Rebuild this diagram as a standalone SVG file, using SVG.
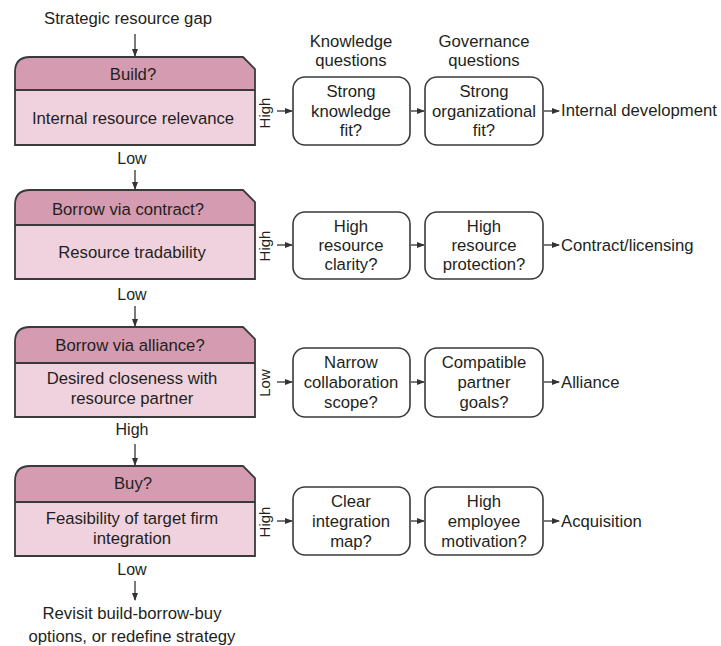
<svg xmlns="http://www.w3.org/2000/svg" width="721" height="646" viewBox="0 0 721 646">
<defs>
<marker id="ah" markerWidth="8" markerHeight="6" refX="7" refY="3" orient="auto" markerUnits="userSpaceOnUse">
<path d="M0,0 L8,3 L0,6 Z" fill="#333"/>
</marker>
<style>
text{font-family:"Liberation Sans",Arial,sans-serif;font-size:16.7px;fill:#231f20;text-anchor:middle}
.l{text-anchor:start}
.s{font-size:16px}
.v{font-size:15px}
.hd{fill:#d59bb1}
.bd{fill:#f0d2de}
.ol{fill:none;stroke:#3a3a3a;stroke-width:1.8}
.dv{stroke:#3a3a3a;stroke-width:1.8}
.bx{fill:#fff;stroke:#3a3a3a;stroke-width:1.6}
.c{stroke:#333;stroke-width:1.3;fill:none;marker-end:url(#ah)}
</style>
</defs>
<rect width="721" height="646" fill="#fff"/>

<text x="128" y="24">Strategic resource gap</text>
<text x="351" y="47">Knowledge</text>
<text x="351" y="66">questions</text>
<text x="484" y="47">Governance</text>
<text x="484" y="66">questions</text>

<g id="build">
<path class="hd" d="M15,90 L15,72 Q15,57 30,57 L243,57 L255,69 L255,90 Z"/>
<rect class="bd" x="15" y="90" width="240" height="55"/>
<line class="dv" x1="15" y1="90" x2="255" y2="90"/>
<path class="ol" d="M15,145 L15,72 Q15,57 30,57 L243,57 L255,69 L255,145 Z"/>
<text x="133" y="80">Build?</text>
<text x="133" y="124">Internal resource relevance</text>
</g>
<g id="contract">
<path class="hd" d="M15,225 L15,205 Q15,190 30,190 L243,190 L255,202 L255,225 Z"/>
<rect class="bd" x="15" y="225" width="240" height="54"/>
<line class="dv" x1="15" y1="225" x2="255" y2="225"/>
<path class="ol" d="M15,279 L15,205 Q15,190 30,190 L243,190 L255,202 L255,279 Z"/>
<text x="128" y="215">Borrow via contract?</text>
<text x="132" y="258">Resource tradability</text>
</g>
<g id="alliance">
<path class="hd" d="M15,363 L15,342 Q15,327 30,327 L243,327 L255,339 L255,363 Z"/>
<rect class="bd" x="15" y="363" width="240" height="54"/>
<line class="dv" x1="15" y1="363" x2="255" y2="363"/>
<path class="ol" d="M15,417 L15,342 Q15,327 30,327 L243,327 L255,339 L255,417 Z"/>
<text x="130" y="351">Borrow via alliance?</text>
<text x="132" y="384">Desired closeness with</text>
<text x="132" y="404">resource partner</text>
</g>
<g id="buy">
<path class="hd" d="M15,502 L15,481 Q15,466 30,466 L243,466 L255,478 L255,502 Z"/>
<rect class="bd" x="15" y="502" width="240" height="54"/>
<line class="dv" x1="15" y1="502" x2="255" y2="502"/>
<path class="ol" d="M15,556 L15,481 Q15,466 30,466 L243,466 L255,478 L255,556 Z"/>
<text x="133" y="489">Buy?</text>
<text x="132" y="524">Feasibility of target firm</text>
<text x="132" y="544">integration</text>
</g>

<g id="r1">
<rect class="bx" x="293" y="77" width="117" height="68" rx="12"/>
<text x="351" y="97">Strong</text><text x="351" y="117">knowledge</text><text x="351" y="136">fit?</text>
<rect class="bx" x="425" y="77" width="118" height="68" rx="12"/>
<text x="484" y="97">Strong</text><text x="484" y="117">organizational</text><text x="484" y="136">fit?</text>
<text class="l" x="561" y="116">Internal development</text>
</g>
<g id="r2">
<rect class="bx" x="293" y="212" width="117" height="67" rx="12"/>
<text x="351" y="232">High</text><text x="351" y="251">resource</text><text x="351" y="270">clarity?</text>
<rect class="bx" x="425" y="212" width="118" height="67" rx="12"/>
<text x="484" y="232">High</text><text x="484" y="251">resource</text><text x="484" y="270">protection?</text>
<text class="l" x="561" y="251">Contract/licensing</text>
</g>
<g id="r3">
<rect class="bx" x="293" y="348" width="117" height="69" rx="12"/>
<text x="351" y="368">Narrow</text><text x="351" y="388">collaboration</text><text x="351" y="408">scope?</text>
<rect class="bx" x="425" y="348" width="118" height="69" rx="12"/>
<text x="484" y="368">Compatible</text><text x="484" y="388">partner</text><text x="484" y="408">goals?</text>
<text class="l" x="561" y="388">Alliance</text>
</g>
<g id="r4">
<rect class="bx" x="293" y="487" width="117" height="68" rx="12"/>
<text x="351" y="507">Clear</text><text x="351" y="527">integration</text><text x="351" y="547">map?</text>
<rect class="bx" x="425" y="487" width="118" height="68" rx="12"/>
<text x="484" y="507">High</text><text x="484" y="527">employee</text><text x="484" y="547">motivation?</text>
<text class="l" x="561" y="527">Acquisition</text>
</g>

<g id="labels">
<text class="s" x="132" y="164">Low</text>
<text class="s" x="132" y="300">Low</text>
<text class="s" x="132" y="435">High</text>
<text class="s" x="132" y="575">Low</text>
<text class="v" transform="translate(270,113) rotate(-90)">High</text>
<text class="v" transform="translate(270,246) rotate(-90)">High</text>
<text class="v" transform="translate(270,383) rotate(-90)">Low</text>
<text class="v" transform="translate(270,522) rotate(-90)">High</text>
<text x="132" y="619">Revisit build-borrow-buy</text>
<text x="132" y="642">options, or redefine strategy</text>
</g>

<g id="connectors">
<line class="c" x1="135" y1="34" x2="135" y2="56"/>
<line class="c" x1="135" y1="170" x2="135" y2="189"/>
<line class="c" x1="135" y1="306" x2="135" y2="326"/>
<line class="c" x1="135" y1="444" x2="135" y2="465"/>
<line class="c" x1="135" y1="581" x2="135" y2="600"/>
<line class="c" x1="277" y1="111" x2="292" y2="111"/>
<line class="c" x1="411" y1="111" x2="424" y2="111"/>
<line class="c" x1="544" y1="111" x2="559" y2="111"/>
<line class="c" x1="277" y1="245" x2="292" y2="245"/>
<line class="c" x1="411" y1="245" x2="424" y2="245"/>
<line class="c" x1="544" y1="245" x2="559" y2="245"/>
<line class="c" x1="277" y1="382" x2="292" y2="382"/>
<line class="c" x1="411" y1="382" x2="424" y2="382"/>
<line class="c" x1="544" y1="382" x2="559" y2="382"/>
<line class="c" x1="277" y1="521" x2="292" y2="521"/>
<line class="c" x1="411" y1="521" x2="424" y2="521"/>
<line class="c" x1="544" y1="521" x2="559" y2="521"/>
</g>
</svg>
